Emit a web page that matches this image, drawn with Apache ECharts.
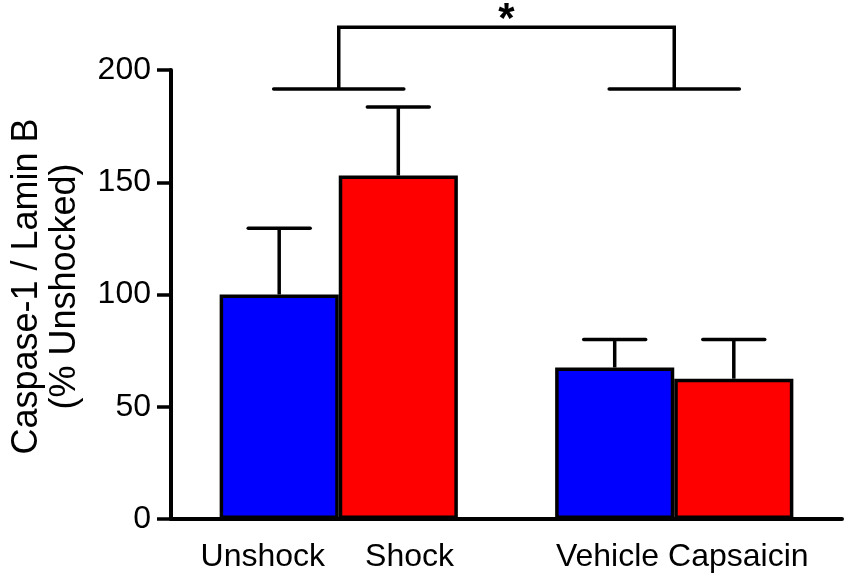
<!DOCTYPE html>
<html>
<head>
<meta charset="utf-8">
<title>Caspase-1 / Lamin B</title>
<script src="https://cdn.jsdelivr.net/npm/echarts@6/dist/echarts.min.js"></script>
<style>
  html, body { margin: 0; padding: 0; background: #fff; }
  #chart { width: 850px; height: 579px; }
</style>
</head>
<body>
<div id="chart"></div>
<script>
// data
var groups = ['Unshock|Shock', 'Vehicle|Capsaicin'];
var controlValues = [100, 67.5];
var treatValues = [153, 62.5];
var controlErr = [29.5, 12.5];
var treatErr = [30.5, 17.5];
var yTicks = [0, 50, 100, 150, 200];
// significance bracket: short lines level, top line level
var sigLower = 191.5;
var sigUpper = 219;
var sigMark = '*';

var font = '"Liberation Sans", Arial, Helvetica, sans-serif';
var chart = echarts.init(document.getElementById('chart'));

// upper error bar with cap, on left (-1) or right (+1) bar of the group
function errorBar(side, values, errs) {
    return {
        type: 'custom',
        z: 5,
        clip: false,
        data: values.map(function (v, i) { return [i, v, v + errs[i]]; }),
        renderItem: function (params, api) {
            var catW = api.size([1, 0])[0];
            var barW = catW * 0.355;
            var base = api.coord([api.value(0), api.value(1)]);
            var top = api.coord([api.value(0), api.value(2)]);
            var x = base[0] + side * barW / 2;
            var style = { stroke: '#000', lineWidth: 3.5 };
            return {
                type: 'group',
                children: [
                    { type: 'line', shape: { x1: x, y1: base[1], x2: x, y2: top[1] }, style: style },
                    { type: 'line', shape: { x1: x - barW * 0.26, y1: top[1], x2: x + barW * 0.26, y2: top[1] }, style: { stroke: '#000', lineWidth: 3.5, lineCap: 'round' } }
                ]
            };
        }
    };
}

var option = {
    backgroundColor: '#fff',
    animation: false,
    grid: { left: 171, right: 8, top: 70, bottom: 60, containLabel: false },
    xAxis: {
        type: 'category',
        data: groups,
        axisLine: { lineStyle: { color: '#000', width: 4 } },
        axisTick: { alignWithLabel: true, length: 10, lineStyle: { color: '#000', width: 3.5 } },
        axisLabel: {
            margin: 22,
            interval: 0,
            formatter: function (val, idx) {
                var p = val.split('|');
                return idx === 0 ? '{a|' + p[0] + '}{b|' + p[1] + '}' : '{c|' + p[0] + '}{d|' + p[1] + '}';
            },
            rich: {
                a: { fontFamily: font, fontSize: 32, color: '#000', padding: [0, 40, 0, 0] },
                b: { fontFamily: font, fontSize: 32, color: '#000', padding: [0, 23, 0, 0] },
                c: { fontFamily: font, fontSize: 32, color: '#000', padding: [0, 9, 0, 16] },
                d: { fontFamily: font, fontSize: 32, color: '#000' }
            }
        }
    },
    yAxis: {
        type: 'value',
        min: yTicks[0],
        max: yTicks[yTicks.length - 1],
        interval: yTicks[1] - yTicks[0],
        name: 'Caspase-1 / Lamin B\n(% Unshocked)',
        nameLocation: 'middle',
        nameGap: 87,
        nameTextStyle: {
            fontFamily: font, fontSize: 36, color: '#000', lineHeight: 38,
            padding: [0, 0, 0, 16]
        },
        axisLine: { show: true, lineStyle: { color: '#000', width: 4 } },
        axisTick: { show: true, length: 14, lineStyle: { color: '#000', width: 3.5 } },
        axisLabel: { fontFamily: font, fontSize: 32, color: '#000', margin: 20 },
        splitLine: { show: false }
    },
    series: [
        {
            name: 'control',
            type: 'bar',
            data: controlValues,
            barWidth: '35.5%',
            barGap: '0%',
            itemStyle: { color: '#0000ff', borderColor: '#000', borderWidth: 3.5 }
        },
        {
            name: 'treated',
            type: 'bar',
            data: treatValues,
            barWidth: '35.5%',
            barGap: '0%',
            itemStyle: { color: '#ff0000', borderColor: '#000', borderWidth: 3.5 }
        },
        errorBar(-1, controlValues, controlErr),
        errorBar(1, treatValues, treatErr),
        {
            // significance bracket between the two groups
            type: 'custom',
            clip: false,
            z: 5,
            data: [[0, 1, sigLower, sigUpper]],
            renderItem: function (params, api) {
                var catW = api.size([1, 0])[0];
                var half = catW * 0.194;
                var a = api.coord([api.value(0), api.value(2)]);
                var b = api.coord([api.value(1), api.value(2)]);
                var yTop = api.coord([api.value(0), api.value(3)])[1];
                var style = { stroke: '#000', lineWidth: 3.5, lineCap: 'round' };
                return {
                    type: 'group',
                    children: [
                        { type: 'line', shape: { x1: a[0] - half, y1: a[1], x2: a[0] + half, y2: a[1] }, style: style },
                        { type: 'line', shape: { x1: b[0] - half, y1: b[1], x2: b[0] + half, y2: b[1] }, style: style },
                        { type: 'polyline', shape: { points: [[a[0], a[1]], [a[0], yTop], [b[0], yTop], [b[0], b[1]]] }, style: { stroke: '#000', lineWidth: 3.5, fill: null } },
                        { type: 'text', x: (a[0] + b[0]) / 2, y: yTop - 28, style: { text: sigMark, fontFamily: font, fontSize: 42, fontWeight: 'bold', fill: '#000', align: 'center', verticalAlign: 'top' } }
                    ]
                };
            }
        }
    ]
};

chart.setOption(option);
</script>
</body>
</html>
